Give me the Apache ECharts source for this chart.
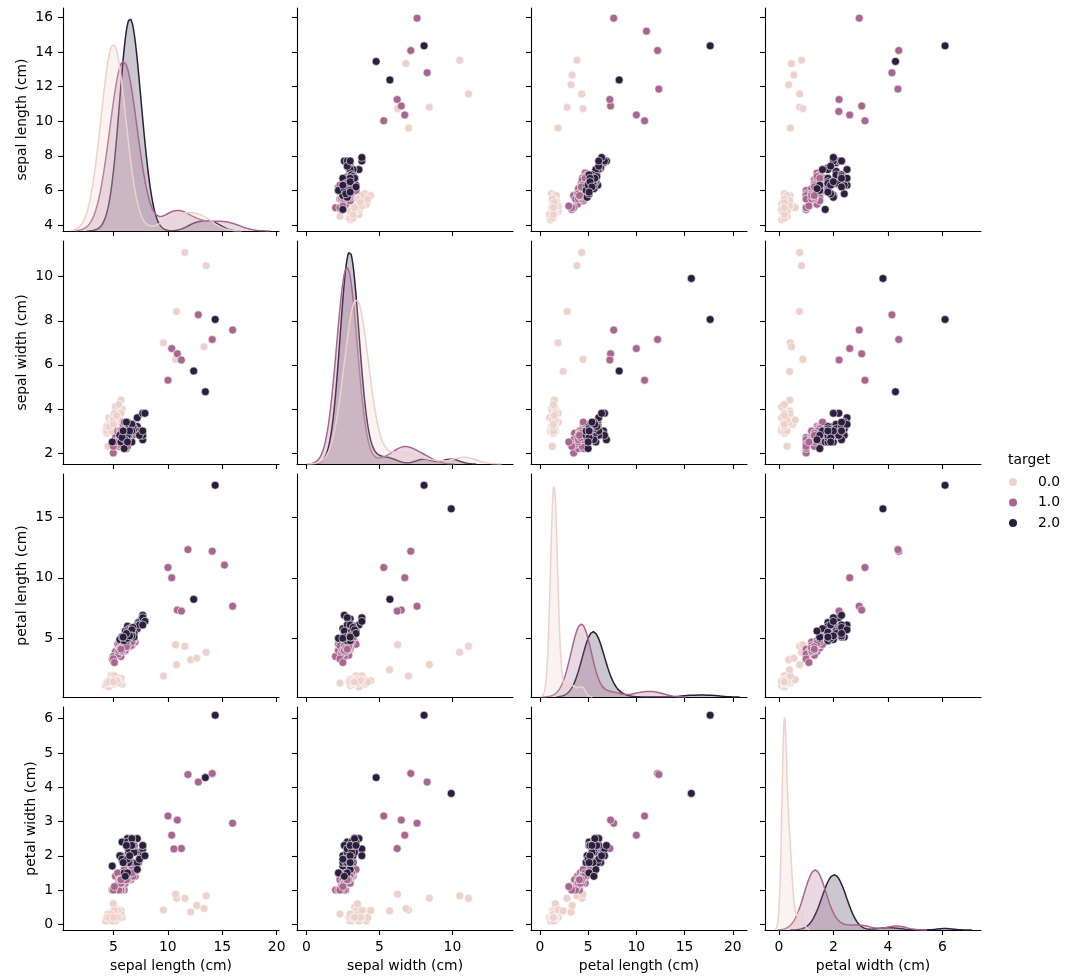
<!DOCTYPE html>
<html>
<head>
<meta charset="utf-8">
<script src="https://cdn.jsdelivr.net/npm/echarts@6/dist/echarts.min.js"></script>
<style>html,body{margin:0;padding:0;background:#fff}#chart{width:1076px;height:980px}</style>
</head>
<body>
<div id="chart"></div>
<script>
// ---------------- data ----------------
const variables = ['sepal length (cm)', 'sepal width (cm)', 'petal length (cm)', 'petal width (cm)'];
const targetLevels = ['0.0', '1.0', '2.0'];
const legendTitle = 'target';

// target 0.0
const sepalLength0 = [5.1,4.9,4.7,4.6,5.0,5.4,4.6,5.0,4.4,4.9,5.4,4.8,4.8,4.3,5.8,5.7,5.4,5.1,5.7,5.1,5.4,5.1,4.6,5.1,4.8,5.0,5.0,5.2,5.2,4.7,4.8,5.4,5.2,5.5,4.9,5.0,5.5,4.9,4.4,5.1,5.0,4.5,4.4,5.0,5.1,4.8,5.1,4.6,5.3,5.0,
  11.57,13.52,10.8,10.72,9.6,13.33,12.1,12.66,null];
const sepalWidth0 = [3.5,3.0,3.2,3.1,3.6,3.9,3.4,3.4,2.9,3.1,3.7,3.4,3.0,3.0,4.0,4.4,3.9,3.5,3.8,3.8,3.4,3.7,3.6,3.3,3.4,3.0,3.4,3.5,3.4,3.2,3.1,3.4,4.1,4.2,3.1,3.2,3.5,3.6,3.0,3.4,3.5,2.3,3.2,3.5,3.8,3.0,3.8,3.2,3.7,3.3,
  11.1,10.5,8.42,6.25,7.0,6.82,null,null,5.7];
const petalLength0 = [1.4,1.4,1.3,1.5,1.4,1.7,1.4,1.5,1.4,1.5,1.5,1.6,1.4,1.1,1.2,1.5,1.3,1.4,1.7,1.5,1.7,1.5,1.0,1.7,1.9,1.6,1.6,1.5,1.4,1.6,1.6,1.5,1.5,1.4,1.5,1.2,1.3,1.4,1.3,1.5,1.3,1.3,1.3,1.6,1.9,1.4,1.6,1.4,1.5,1.4,
  4.34,3.84,2.82,4.47,1.88,null,3.23,3.35,2.41];
const petalWidth0 = [0.2,0.2,0.2,0.2,0.2,0.4,0.3,0.2,0.2,0.1,0.2,0.2,0.1,0.1,0.2,0.4,0.4,0.3,0.3,0.3,0.2,0.4,0.2,0.5,0.2,0.2,0.4,0.2,0.2,0.2,0.2,0.4,0.1,0.2,0.2,0.2,0.2,0.1,0.2,0.2,0.3,0.3,0.2,0.6,0.4,0.3,0.2,0.2,0.2,0.2,
  0.76,0.83,0.76,0.88,0.42,0.46,0.36,0.55,0.39];

// target 1.0
const sepalLength1 = [7.0,6.4,6.9,5.5,6.5,5.7,6.3,4.9,6.6,5.2,5.0,5.9,6.0,6.1,5.6,6.7,5.6,5.8,6.2,5.6,5.9,6.1,6.3,6.1,6.4,6.6,6.8,6.7,6.0,5.7,5.5,5.5,5.8,6.0,5.4,6.0,6.7,6.3,5.6,5.5,5.5,6.1,5.8,5.0,5.6,5.7,5.7,6.2,5.1,5.7,
  14.08,15.95,10.02,10.36,10.88,11.25,12.8,11.85,15.2,10.56];
const sepalWidth1 = [3.2,3.2,3.1,2.3,2.8,2.8,3.3,2.4,2.9,2.7,2.0,3.0,2.2,2.9,2.9,3.1,3.0,2.7,2.2,2.5,3.2,2.8,2.5,2.8,2.9,3.0,2.8,3.0,2.9,2.6,2.4,2.4,2.7,2.7,3.0,3.4,3.1,2.3,3.0,2.5,2.6,3.0,2.6,2.3,2.7,3.0,2.9,2.9,2.5,2.8,
  7.15,7.58,5.3,6.74,6.5,6.22,8.27,null,null,null];
const petalLength1 = [4.7,4.5,4.9,4.0,4.6,4.5,4.7,3.3,4.6,3.9,3.5,4.2,4.0,4.7,3.6,4.4,4.5,4.1,4.5,3.9,4.8,4.0,4.9,4.7,4.3,4.4,4.8,5.0,4.5,3.5,3.8,3.7,3.9,5.1,4.5,4.5,4.7,4.4,4.1,4.0,4.4,4.6,4.0,3.3,4.2,4.2,4.2,4.3,3.0,4.1,
  12.2,7.65,10.85,10.0,7.33,7.25,null,12.33,11.05,null];
const petalWidth1 = [1.4,1.5,1.5,1.3,1.5,1.3,1.6,1.0,1.3,1.4,1.0,1.5,1.0,1.4,1.3,1.4,1.5,1.0,1.5,1.1,1.8,1.3,1.5,1.2,1.3,1.4,1.4,1.7,1.5,1.0,1.1,1.0,1.2,1.6,1.5,1.6,1.5,1.3,1.3,1.3,1.2,1.4,1.2,1.0,1.3,1.2,1.3,1.3,1.1,1.3,
  4.4,2.95,3.16,2.6,3.04,2.21,4.15,4.37,null,2.2];

// target 2.0
const sepalLength2 = [6.3,5.8,7.1,6.3,6.5,7.6,4.9,7.3,6.7,7.2,6.5,6.4,6.8,5.7,5.8,6.4,6.5,7.7,7.7,6.0,6.9,5.6,7.7,6.3,6.7,7.2,6.2,6.1,6.4,7.2,7.4,7.9,6.4,6.3,6.1,7.7,6.3,6.4,6.0,6.9,6.7,6.9,5.8,6.8,6.7,6.7,6.3,6.5,6.2,5.9,
  14.35,12.38,13.45,null];
const sepalWidth2 = [3.3,2.7,3.0,2.9,3.0,3.0,2.5,2.9,2.5,3.6,3.2,2.7,3.0,2.5,2.8,3.2,3.0,3.8,2.6,2.2,3.2,2.8,2.8,2.7,3.3,3.2,2.8,3.0,2.8,3.0,2.8,3.8,2.8,2.8,2.6,3.0,3.4,3.1,3.0,3.1,3.1,3.1,2.7,3.2,3.3,3.0,2.5,3.0,3.4,3.0,
  8.06,5.72,4.78,9.92];
const petalLength2 = [6.0,5.1,5.9,5.6,5.8,6.6,null,6.3,5.8,6.1,5.1,5.3,5.5,5.0,5.1,5.3,5.5,6.7,6.9,5.0,5.7,4.9,6.7,4.9,5.7,6.0,4.8,4.9,5.6,5.8,6.1,6.4,5.6,5.1,5.6,6.1,5.6,5.5,4.8,5.4,5.6,5.1,5.1,5.9,5.7,5.2,5.0,5.2,5.4,5.1,
  17.65,8.22,null,15.7];
const petalWidth2 = [2.5,1.9,2.1,1.8,2.2,2.1,1.7,1.8,1.8,2.5,2.0,1.9,2.1,2.0,2.4,2.3,1.8,2.2,2.3,1.5,2.3,2.0,2.0,1.8,2.1,1.8,1.8,1.8,2.1,1.6,1.9,2.0,2.2,1.5,1.4,2.3,2.4,1.8,1.8,2.1,2.4,2.3,1.9,2.3,2.5,2.3,1.9,2.0,2.3,1.8,
  6.1,null,4.28,3.82];

// tick labels
const xTickValues = [[5,10,15,20],[0,5,10],[0,5,10,15,20],[0,2,4,6]];
const yTickValues = [[4,6,8,10,12,14,16],[2,4,6,8,10],[5,10,15],[0,1,2,3,4,5,6]];

// ---------------- layout / style ----------------
const colors = ['#edd1cb', '#a9678f', '#2d1e3e'];
const FONT = 'DejaVu Sans';
const FS = 13.9;
const colLeft = [63, 297, 531, 765];
const rowTop = [8, 241, 474, 707];
const cellW = 216, cellH = 223;
const colRange = [[0.38, 20.21], [-0.64, 14.15], [-0.92, 21.47], [-0.51, 7.42]];
const rowRange = [[3.653, 16.537], [1.50, 11.62], [0.149, 18.58], [-0.166, 6.34]];
const yNameGap = [34, 34, 34, 25];

const classData = [
  [sepalLength0, sepalWidth0, petalLength0, petalWidth0],
  [sepalLength1, sepalWidth1, petalLength1, petalWidth1],
  [sepalLength2, sepalWidth2, petalLength2, petalWidth2]
];

// Gaussian KDE (Scott bandwidth, cut = 3, 200 grid points), common normalisation
function kdeCurve(values, weight) {
  const v = values.filter(x => x !== null && x !== undefined);
  const n = v.length;
  const mean = v.reduce((a, b) => a + b, 0) / n;
  const variance = v.reduce((a, b) => a + (b - mean) * (b - mean), 0) / (n - 1);
  const bw = Math.sqrt(variance) * Math.pow(n, -0.2);
  const lo = Math.min(...v) - 3 * bw, hi = Math.max(...v) + 3 * bw;
  const pts = [];
  const norm = 1 / (n * bw * Math.sqrt(2 * Math.PI));
  for (let i = 0; i < 200; i++) {
    const x = lo + (hi - lo) * i / 199;
    let s = 0;
    for (const xi of v) { const z = (x - xi) / bw; s += Math.exp(-0.5 * z * z); }
    pts.push([x, s * norm * weight]);
  }
  return pts;
}

const grid = [], xAxis = [], yAxis = [], series = [];
const textStyle = {fontFamily: FONT, fontSize: FS, color: '#000'};

for (let r = 0; r < 4; r++) {
  for (let c = 0; c < 4; c++) {
    const g = r * 4 + c;
    grid.push({left: colLeft[c], top: rowTop[r], width: cellW, height: cellH, containLabel: false, outerBoundsMode: 'none'});
    xAxis.push({
      gridIndex: g, type: 'value', min: colRange[c][0], max: colRange[c][1],
      axisLine: {show: true, onZero: false, lineStyle: {color: '#000', width: 1.1}},
      axisTick: {show: true, inside: false, length: 5, lineStyle: {color: '#000', width: 1.1}, customValues: xTickValues[c]},
      axisLabel: {show: r === 3, customValues: xTickValues[c], margin: 10, ...textStyle},
      splitLine: {show: false},
      name: r === 3 ? variables[c] : '', nameLocation: 'middle', nameGap: 29,
      nameTextStyle: textStyle
    });
    yAxis.push({
      gridIndex: g, type: 'value', min: rowRange[r][0], max: rowRange[r][1],
      axisLine: {show: true, onZero: false, lineStyle: {color: '#000', width: 1.1}},
      axisTick: {show: true, inside: false, length: 5, lineStyle: {color: '#000', width: 1.1}, customValues: yTickValues[r]},
      axisLabel: {show: c === 0, customValues: yTickValues[r], margin: 10, ...textStyle},
      splitLine: {show: false},
      name: c === 0 ? variables[r] : '', nameLocation: 'middle', nameGap: yNameGap[r], nameRotate: 90,
      nameTextStyle: textStyle
    });
    if (r !== c) {
      for (let k = 0; k < 3; k++) {
        const xs = classData[k][c], ys = classData[k][r];
        const pts = [];
        for (let j = 0; j < xs.length; j++) {
          if (xs[j] === null || ys[j] === null) continue;
          pts.push([xs[j], ys[j]]);
        }
        series.push({
          type: 'scatter', name: targetLevels[k], xAxisIndex: g, yAxisIndex: g,
          data: pts, symbol: 'circle', symbolSize: 8, z: 2 + k,
          itemStyle: {color: colors[k], borderColor: '#fff', borderWidth: 0.6, opacity: 1},
          emphasis: {disabled: true}, silent: true, animation: false
        });
      }
    }
  }
}

// diagonal density axes and curves
for (let i = 0; i < 4; i++) {
  const counts = classData.map(cd => cd[i].filter(v => v !== null).length);
  const total = counts.reduce((a, b) => a + b, 0);
  const curves = classData.map((cd, k) => kdeCurve(cd[i], counts[k] / total));
  let maxD = 0;
  curves.forEach(cv => cv.forEach(p => { if (p[1] > maxD) maxD = p[1]; }));
  const yi = yAxis.length;
  yAxis.push({gridIndex: i * 5, type: 'value', min: 0, max: maxD * 1.05, show: false,
    axisLine: {show: false}, axisTick: {show: false}, axisLabel: {show: false}, splitLine: {show: false}});
  for (let k = 2; k >= 0; k--) {
    series.push({
      type: 'line', name: targetLevels[k], xAxisIndex: i * 5, yAxisIndex: yi,
      data: curves[k], showSymbol: false, symbol: 'none', smooth: false, z: 2 + (2 - k),
      lineStyle: {color: colors[k], width: 1.5},
      itemStyle: {color: colors[k]},
      areaStyle: {color: colors[k], opacity: 0.25},
      emphasis: {disabled: true}, silent: true, animation: false
    });
  }
}

const chart = echarts.init(document.getElementById('chart'), null, {renderer: 'canvas'});
chart.setOption({
  animation: false,
  backgroundColor: '#fff',
  title: {text: legendTitle, left: 1008, top: 453, padding: 0,
    textStyle: {fontFamily: FONT, fontSize: FS, fontWeight: 'normal', color: '#000'}},
  legend: {
    orient: 'vertical', left: 1009, top: 475, padding: 0,
    icon: 'circle', itemWidth: 8, itemHeight: 8, itemGap: 6.5,
    selectedMode: false,
    data: targetLevels.map((t, k) => ({name: t, itemStyle: {color: colors[k], borderWidth: 0}})),
    textStyle: {fontFamily: FONT, fontSize: FS, color: '#000', padding: [0, 0, 0, 16]}
  },
  grid, xAxis, yAxis, series
});
</script>
</body>
</html>
